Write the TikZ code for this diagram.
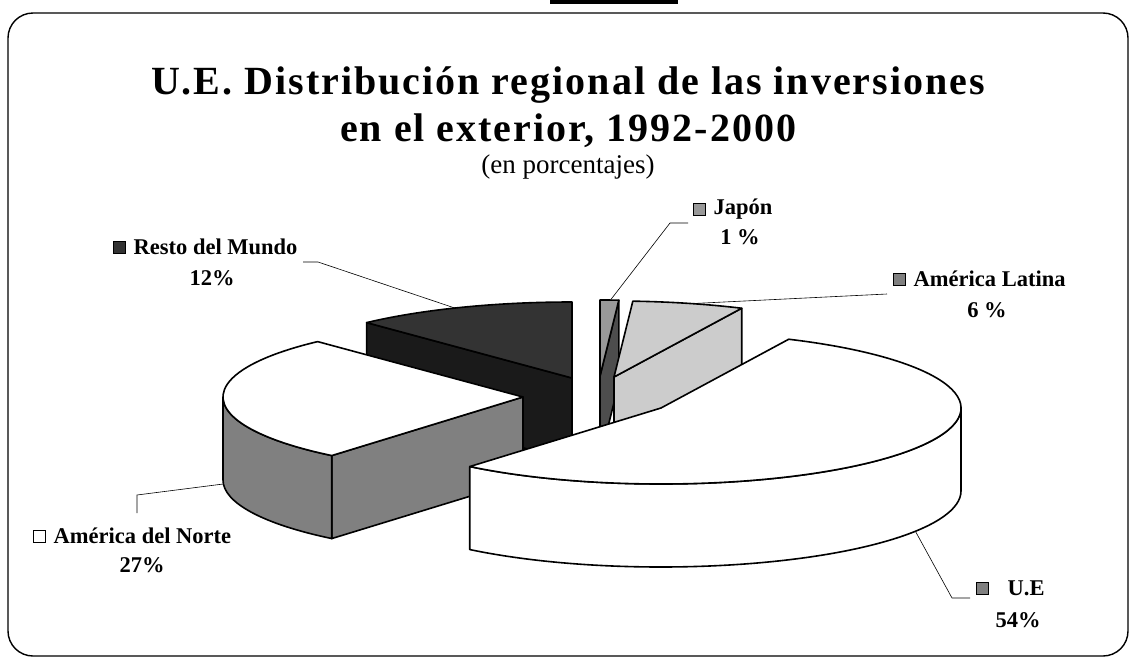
\documentclass[tikz,border=0pt]{standalone}
\usepackage{fontspec}
\setmainfont{Liberation Serif}
\newfontfamily\titlefont[LetterSpace=5]{Liberation Serif}
\usetikzlibrary{positioning,calc}

\definecolor{rmtop}{HTML}{333333}
\definecolor{rmside}{HTML}{1A1A1A}
\definecolor{jptop}{HTML}{999999}
\definecolor{jpside}{HTML}{4D4D4D}
\definecolor{altop}{HTML}{CCCCCC}
\definecolor{anside}{HTML}{808080}

\begin{document}
\begin{tikzpicture}[
        x=1pt, y=-1pt,
        pie/.style={x radius=300, y radius=76},
        slice/.style={draw=black, line width=1.6pt, line join=round},
        leader/.style={draw=black, line width=0.6pt},
        legsq/.style={draw=black, line width=1pt, minimum size=12pt, inner sep=0pt},
        leglabel/.style={font=\fontsize{22.5}{26}\selectfont\bfseries, inner sep=0pt},
        pctlabel/.style={font=\fontsize{22.5}{26}\selectfont\bfseries, inner sep=0pt},
        headline/.style={font=\titlefont\fontsize{40}{46}\selectfont\bfseries, inner sep=0pt}
    ]
    \useasboundingbox (0,0) rectangle (1136,659);

    % frame and tab on top
    \draw[line width=1.4pt, rounded corners=25pt] (8,13) rectangle (1128,656);
    \fill[black] (550,0) rectangle (678,4);

    % title
    \node[headline] (title1) at (568,85) {U.E. Distribución regional de las inversiones};
    \node[headline] (title2) at (568,131) {en el exterior, 1992-2000};
    \node[font=\fontsize{27}{32}\selectfont, inner sep=0pt] (title3) at (568,167) {(en porcentajes)};

    % centres of the exploded slices
    \coordinate (rmc) at (572,378);
    \coordinate (jpc) at (600,376);
    \coordinate (alc) at (614,377);
    \coordinate (anc) at (523,397);
    \coordinate (uec) at (661,408);

    % Resto del Mundo
    \filldraw[slice, fill=rmside] (rmc) -- ++(226.8:300 and 76) -- ++(0,83) -- ($(rmc)+(0,83)$) -- cycle;
    \filldraw[slice, fill=rmtop] (rmc) -- ++(226.8:300 and 76) arc[pie, start angle=226.8, end angle=270] -- cycle;

    % Japon
    \filldraw[slice, fill=jpside] (jpc) -- ++(-86.4:300 and 76) -- ++(0,83) -- ($(jpc)+(0,83)$) -- cycle;
    \filldraw[slice, fill=jptop] (jpc) -- ++(-90:300 and 76) arc[pie, start angle=-90, end angle=-86.4] -- cycle;

    % America Latina
    \filldraw[slice, fill=altop] (alc) -- ++(-64.8:300 and 76) -- ++(0,83) -- ($(alc)+(0,83)$) -- cycle;
    \filldraw[slice, fill=altop] (alc) -- ++(-86.4:300 and 76) arc[pie, start angle=-86.4, end angle=-64.8] -- cycle;

    % America del Norte
    \filldraw[slice, fill=anside] (anc) -- ++(129.6:300 and 76) -- ++(0,83) -- ($(anc)+(0,83)$) -- cycle;
    \filldraw[slice, fill=anside] ($(anc)+(129.6:300 and 76)$) arc[pie, start angle=129.6, end angle=180] -- ++(0,83) arc[pie, start angle=180, end angle=129.6] -- cycle;
    \filldraw[slice, fill=white] (anc) -- ++(129.6:300 and 76) arc[pie, start angle=129.6, end angle=226.8] -- cycle;

    % U.E
    \filldraw[slice, fill=white] ($(uec)+(0:300 and 76)$) arc[pie, start angle=0, end angle=129.6] -- ++(0,83) arc[pie, start angle=129.6, end angle=0] -- cycle;
    \filldraw[slice, fill=white] (uec) -- ++(-64.8:300 and 76) arc[pie, start angle=-64.8, end angle=129.6] -- cycle;

    % legend labels
    \node[legsq, fill=rmtop] (rmsq) at (119,247) {};
    \node[leglabel, right=8pt of rmsq] (rmname) {Resto del Mundo};
    \node[pctlabel] (rmpct) at (212,278) {12\%};

    \node[legsq, fill=jptop] (jpsq) at (699,209) {};
    \node[leglabel, right=8pt of jpsq] (jpname) {Japón};
    \node[pctlabel] (jppct) at (740,237) {1 \%};

    \node[legsq, fill=anside] (alsq) at (899,279) {};
    \node[leglabel, right=8pt of alsq] (alname) {América Latina};
    \node[pctlabel] (alpct) at (987,310) {6 \%};

    \node[legsq, fill=white] (ansq) at (39,536) {};
    \node[leglabel, right=8pt of ansq] (anname) {América del Norte};
    \node[pctlabel] (anpct) at (142,565) {27\%};

    \node[legsq, fill=anside] (uesq) at (982,588) {};
    \node[leglabel, right=19pt of uesq] (uename) {U.E};
    \node[pctlabel] (uepct) at (1018,620) {54\%};

    % leader lines
    \coordinate (rmend) at (303,262);
    \coordinate (rmknee) at (318,262);
    \coordinate (rmtip) at ($(rmc)+(247:300 and 76)$);
    \draw[leader] (rmend) -- (rmknee) -- (rmtip);

    \coordinate (jpend) at (688,223);
    \coordinate (jpknee) at (670,223);
    \coordinate (jptip) at ($(jpc)+(-88:300 and 76)$);
    \draw[leader] (jpend) -- (jpknee) -- (jptip);

    \coordinate (alend) at (887,294);
    \coordinate (altip) at ($(alc)+(-75:300 and 76)$);
    \draw[leader] (alend) -- (altip);

    \coordinate (anend) at (137,513);
    \coordinate (anknee) at (137,495);
    \coordinate (antip) at ($(anc)+(177:300 and 76)+(0,83)$);
    \draw[leader] (anend) -- (anknee) -- (antip);

    \coordinate (ueend) at (970,598);
    \coordinate (ueknee) at (952,598);
    \coordinate (uetip) at ($(uec)+(32:300 and 76)+(0,83)$);
    \draw[leader] (ueend) -- (ueknee) -- (uetip);

\end{tikzpicture}
\end{document}
